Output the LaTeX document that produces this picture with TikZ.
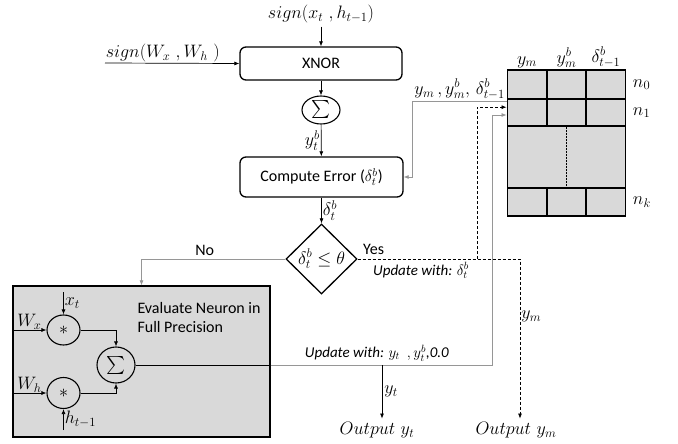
\RequirePackage{fix-cm}
\documentclass[tikz,border=0pt]{standalone}
\usepackage{amsmath}
\usepackage{amsfonts}
\usepackage{fontspec}
\setsansfont{Carlito}
\usetikzlibrary{shapes.geometric, arrows.meta, positioning}
\definecolor{fillgray}{RGB}{217,217,217}
\definecolor{linegray}{RGB}{150,150,150}

\begin{document}
\begin{tikzpicture}[x=1pt, y=-1pt,
  lbl/.style={font=\fontsize{18}{21}\selectfont},
  txt/.style={font=\sffamily\fontsize{16}{19}\selectfont},
  itxt/.style={font=\sffamily\itshape\fontsize{15}{18}\selectfont},
  block/.style={draw, rounded corners=6pt, line width=1.3pt, txt},
  circ/.style={draw, ellipse, line width=1.1pt, inner sep=0pt},
  cell/.style={draw, fill=fillgray, line width=1.6pt, minimum width=39.3pt, inner sep=0pt},
  arr/.style={-{Latex[length=5pt,width=4pt]}, line width=0.7pt},
  gline/.style={draw=linegray, line width=1pt},
  dline/.style={dashed, dash pattern=on 3pt off 2pt, line width=0.7pt}]

\useasboundingbox (0,0) rectangle (678,444);

% binary path
\node[lbl] (sx) at (321, 14) {$sign(x_t\ ,h_{t-1})$};
\node[block, minimum width=162pt, minimum height=33pt] (xnor) at (321, 63.5) {XNOR};
\node[circ, minimum width=38pt, minimum height=28pt, lbl] (sum) at (321, 110) {$\sum$};
\node[block, minimum width=163pt, minimum height=40pt] (err) at (321.5, 177) {Compute Error ($\delta_t^b$)};
\node[diamond, draw, line width=1.3pt, aspect=1, inner sep=0pt, minimum width=71pt, minimum height=70pt, lbl] (dec) at (321.5, 259) {$\delta_t^b \le \theta$};
\coordinate (win) at (105, 63);

% full precision block
\node[draw, fill=fillgray, line width=1.3pt, minimum width=257pt, minimum height=151pt] (eval) at (141.5, 361.5) {};
\node[txt, anchor=north west, align=left] (evtxt) at (134, 299) {Evaluate Neuron in\\Full Precision};
\node[circ, minimum width=33pt, minimum height=30pt, lbl] (mulx) at (63.5, 330) {$\ast$};
\node[circ, minimum width=33pt, minimum height=31pt, lbl] (mulh) at (63.5, 393) {$\ast$};
\node[circ, minimum width=38pt, minimum height=36pt, lbl] (fsum) at (116, 365) {$\sum$};
\coordinate (xtin) at (63.5, 292);
\coordinate (htin) at (63.5, 430);

% table
\node[cell, minimum height=29pt] (c0a) at (527, 84.5) {};
\node[cell, minimum height=29pt] (c0b) at (566.5, 84.5) {};
\node[cell, minimum height=29pt] (c0c) at (606, 84.5) {};
\node[cell, minimum height=27pt] (c1a) at (527, 112.5) {};
\node[cell, minimum height=27pt] (c1b) at (566.5, 112.5) {};
\node[cell, minimum height=27pt] (c1c) at (606, 112.5) {};
\node[cell, minimum height=62pt, minimum width=118pt] (mid) at (566.5, 157) {};
\node[cell, minimum height=28pt] (cka) at (527, 202) {};
\node[cell, minimum height=28pt] (ckb) at (566.5, 202) {};
\node[cell, minimum height=28pt] (ckc) at (606, 202) {};
\draw[densely dotted, line width=0.5pt] (mid.north) -- (mid.south);
\node[lbl, above=-2pt of c0a] (hym) {$y_m$};
\node[lbl, above=-2pt of c0b] (hymb) {$y_m^b$};
\node[lbl, above=-2pt of c0c] (hdel) {$\delta_{t-1}^b$};
\node[lbl, right=3pt of c0c] (n0) {$n_0$};
\node[lbl, right=3pt of c1c] (n1) {$n_1$};
\node[lbl, right=3pt of ckc] (nk) {$n_k$};
\coordinate (tout) at ([yshift=-3pt]c1a.north west);
\coordinate (tind) at ([yshift=-9pt]c1a.north west);
\coordinate (tins) at ([yshift=-2.5pt]c1a.west);

% outputs
\node[lbl] (oyt) at (377, 430) {$Output\ y_t$};
\node[lbl] (oym) at (516, 430) {$Output\ y_m$};
\coordinate (ybr) at (477, 259);
\coordinate (ubr) at (492, 365);
\coordinate (yout) at (382, 365);

\draw[arr] (sx) -- (xnor);
\draw[arr] (win) -- node[lbl, above, pos=0.43, inner sep=1pt] {$sign(W_x\ ,W_h\ )$} (xnor.west);
\draw[arr] (xnor) -- (sum);
\draw[arr] (sum) -- node[lbl, left, inner sep=1pt] {$y_t^b$} (err);
\draw[arr] (err) -- node[lbl, right, inner sep=1pt] {$\delta_t^b$} (dec);
\draw[gline, arr] (tout) -- node[lbl, above, inner sep=1pt] {$y_m\,,y_m^b,\,\delta_{t-1}^b$} ++(-94, 0) |- (err.east);

\draw[gline, arr] (dec.west) -| node[txt, above, pos=0.28] {No} (eval.north);
\draw[dline, arr] (dec.east) -| node[lbl, right, pos=0.68, inner sep=1pt] {$y_m$} ([xshift=4pt]oym.north);
\node[txt, above right=1pt and 2pt of dec.east] (yes) {Yes};
\node[itxt, below right=0pt and 12pt of dec.east] (upd) {Update with: $\delta_t^b$};
\draw[dline, arr] (ybr) |- (tind);

\draw[arr] (xtin) -- node[lbl, right, inner sep=1pt] {$x_t$} (mulx);
\draw[arr] (htin) -- node[lbl, right, inner sep=1pt] {$h_{t-1}$} (mulh);
\draw[arr] (eval.west |- mulx) -- node[lbl, above, inner sep=0pt] {$W_x$} (mulx);
\draw[arr] (eval.west |- mulh) -- node[lbl, above, inner sep=0pt] {$W_h$} (mulh);
\draw[arr] (mulx) -| (fsum);
\draw[arr] (mulh) -| (fsum);

\draw[line width=0.8pt] (fsum) -- (eval.east |- fsum);
\draw[gline, arr] (eval.east |- fsum) -- node[itxt, above, pos=0.48] {Update with: $y_t\ \ ,y_t^b$,0.0} (ubr) |- (tins);
\draw[arr] (yout) -- node[lbl, right, inner sep=2pt] {$y_t$} ([xshift=5pt]oyt.north);

\end{tikzpicture}
\end{document}
